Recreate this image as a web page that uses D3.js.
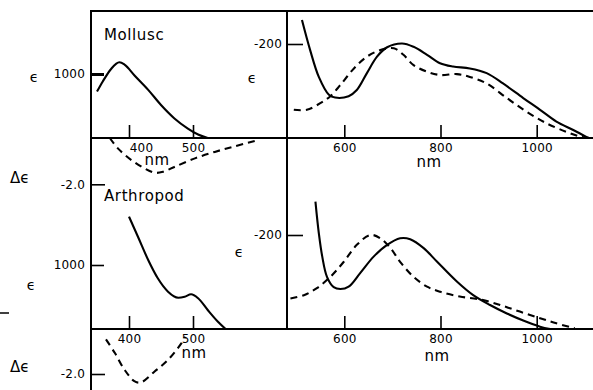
<!DOCTYPE html>
<html>
<head>
<meta charset="utf-8">
<script src="https://cdn.jsdelivr.net/npm/d3@7/dist/d3.min.js"></script>
<style>
  html, body { margin: 0; padding: 0; background: #fff; }
  svg { display: block; }
  text { font-family: "DejaVu Sans", "Liberation Sans", sans-serif; fill: #000; }
</style>
</head>
<body>
<svg id="chart" width="593" height="390"></svg>
<script>
// ---------------- data ----------------
// Mollusc: visible absorption (epsilon) and CD (delta epsilon)
const mollAbsNm   = [350, 359, 372, 385, 393, 409, 430, 450, 471, 492, 508, 523];
const mollAbsEps  = [725, 883, 1079, 1183, 1147, 973, 752, 516, 306, 148, 54, 0];
const mollCdNm    = [370, 383, 404, 424, 440, 453, 471, 503, 534, 565, 600];
const mollCdDeps  = [0, -0.46, -0.96, -1.31, -1.50, -1.46, -1.25, -0.88, -0.60, -0.36, -0.10];
// Mollusc: near-IR band, solid and dashed
const mollNirSolidNm = [512, 529, 547, 568, 581, 609, 626, 647, 668, 689, 720, 744, 772, 799, 826, 861, 896, 930, 972, 1007, 1041, 1076, 1107];
const mollNirSolid   = [251, 187, 130, 92, 86, 89, 102, 138, 173, 193, 201, 194, 177, 159, 152, 148, 138, 116, 85, 60, 35, 17, 0];
const mollNirDashNm  = [495, 522, 550, 571, 592, 620, 647, 675, 703, 723, 744, 772, 800, 834, 861, 896, 938, 979, 1021, 1062, 1090, 1111];
const mollNirDash    = [60, 60, 74, 89, 113, 148, 173, 187, 191, 177, 155, 141, 134, 136, 130, 116, 85, 56, 31, 13, 3, 0];

// Arthropod
const arthAbsNm   = [400, 414, 430, 445, 461, 477, 487, 497, 508, 523, 539, 551];
const arthAbsEps  = [1755, 1442, 1078, 792, 583, 489, 505, 542, 480, 297, 114, 0];
const arthCdNm    = [364, 378, 393, 409, 419, 440, 461, 482, 488];
const arthCdDeps  = [-0.46, -1.07, -1.81, -2.33, -2.37, -1.89, -1.37, -0.63, -0.34];
const arthNirSolidNm = [540, 547, 554, 564, 578, 592, 609, 633, 661, 689, 716, 737, 765, 793, 834, 868, 903, 938, 972, 1007, 1028];
const arthNirSolid   = [271, 204, 155, 111, 89, 85, 90, 119, 154, 179, 193, 191, 172, 143, 101, 72, 51, 33, 18, 5, 0];
const arthNirDashNm  = [488, 516, 543, 571, 599, 626, 654, 675, 696, 716, 744, 772, 800, 840, 882, 924, 965, 1007, 1041, 1079];
const arthNirDash    = [65, 72, 87, 111, 143, 179, 200, 193, 172, 143, 111, 90, 79, 69, 63, 51, 37, 23, 12, 1.5];

// tick values / labels
const visTicks = [400, 500];
const nirTicks = [600, 800, 1000];
const epsTick = [1000];
const depsTick = [-2.0];
const depsTickLabel = ["-2.0"];
const nirYTick = [200];
const nirYTickLabel = ["-200"];
const panelNames = ["Mollusc", "Arthropod"];

// ---------------- drawing ----------------
const svg = d3.select("#chart");
const W = 593;

const xVis = d3.scaleLinear().domain([400, 500]).range([129, 193]);
const xNir = d3.scaleLinear().domain([600, 1000]).range([344.3, 536.7]);

const rows = [
  { base: 138, epsTop: 74, depsBot: 184.3, nirTop: 44,
    abs: [mollAbsNm, mollAbsEps], cd: [mollCdNm, mollCdDeps],
    s: [mollNirSolidNm, mollNirSolid], d: [mollNirDashNm, mollNirDash], name: panelNames[0], nameY: 40 },
  { base: 329, epsTop: 265, depsBot: 374, nirTop: 235,
    abs: [arthAbsNm, arthAbsEps], cd: [arthCdNm, arthCdDeps],
    s: [arthNirSolidNm, arthNirSolid], d: [arthNirDashNm, arthNirDash], name: panelNames[1], nameY: 201 }
];

const zip = (a, b) => a.map((v, i) => [v, b[i]]);

// frame lines
const frame = svg.append("g").attr("stroke", "#000").attr("fill", "none");
frame.append("line").attr("x1", 91).attr("x2", W).attr("y1", 11).attr("y2", 11).attr("stroke-width", 2);
frame.append("line").attr("x1", 91).attr("x2", 91).attr("y1", 10).attr("y2", 390).attr("stroke-width", 2);
frame.append("line").attr("x1", 287).attr("x2", 287).attr("y1", 10).attr("y2", 330).attr("stroke-width", 2);
rows.forEach(r => {
  frame.append("line").attr("x1", 91).attr("x2", W).attr("y1", r.base).attr("y2", r.base).attr("stroke-width", 2);
});
// stray mark at far left
frame.append("line").attr("x1", 0).attr("x2", 9).attr("y1", 313).attr("y2", 313).attr("stroke-width", 1.5);

rows.forEach((r, i) => {
  const yEps = d3.scaleLinear().domain([0, 1000]).range([r.base, r.epsTop]);
  const yDeps = d3.scaleLinear().domain([0, -2]).range([r.base, r.depsBot]);
  const yNir = d3.scaleLinear().domain([0, 200]).range([r.base, r.nirTop]);

  // x axes (ticks pointing up, labels below)
  const gxv = svg.append("g").attr("transform", `translate(0,${r.base})`)
    .call(d3.axisBottom(xVis).tickValues(visTicks).tickSize(-13).tickPadding(5).tickFormat(d3.format("d")));
  const gxn = svg.append("g").attr("transform", `translate(0,${r.base})`)
    .call(d3.axisBottom(xNir).tickValues(nirTicks).tickSize(-13).tickPadding(5).tickFormat(d3.format("d")));
  if (i === 0) gxv.selectAll(".tick text").filter(d => d === 400).attr("dx", 12);

  // y axes
  const gye = svg.append("g").attr("transform", "translate(91,0)")
    .call(d3.axisLeft(yEps).tickValues(epsTick).tickSize(-13).tickPadding(6).tickFormat(d3.format("d")));
  if (i === 0) gye.selectAll(".tick line").attr("stroke-width", 3);
  const gyd = svg.append("g").attr("transform", "translate(91,0)")
    .call(d3.axisLeft(yDeps).tickValues(depsTick).tickSize(-14).tickPadding(6).tickFormat((d, k) => depsTickLabel[k]));
  const gyn = svg.append("g").attr("transform", "translate(287,0)")
    .call(d3.axisLeft(yNir).tickValues(nirYTick).tickSize(-16).tickPadding(5).tickFormat((d, k) => nirYTickLabel[k]));

  [gxv, gxn, gye, gyd, gyn].forEach(g => {
    g.select(".domain").remove();
    g.selectAll(".tick line").attr("stroke", "#000").filter(function(){ return !this.getAttribute("stroke-width"); }).attr("stroke-width", 1.6);
    g.selectAll(".tick text").attr("font-size", 12).attr("fill", "#000")
      .attr("font-family", "DejaVu Sans, sans-serif").attr("letter-spacing", 0.2);
  });

  // curves
  const lineVis = d3.line().x(d => xVis(d[0])).y(d => yEps(d[1])).curve(d3.curveMonotoneX);
  const lineCd = d3.line().x(d => xVis(d[0])).y(d => yDeps(d[1])).curve(d3.curveCatmullRom.alpha(0.5));
  const lineNir = d3.line().x(d => xNir(d[0])).y(d => yNir(d[1])).curve(d3.curveCatmullRom.alpha(0.5));

  const cg = svg.append("g").attr("fill", "none").attr("stroke", "#000").attr("stroke-width", 2.1)
    .attr("stroke-linejoin", "round");
  cg.append("path").attr("d", lineVis(zip(r.abs[0], r.abs[1])));
  cg.append("path").attr("d", lineCd(zip(r.cd[0], r.cd[1]))).attr("stroke-dasharray", "7,5");
  cg.append("path").attr("d", lineNir(zip(r.s[0], r.s[1])));
  cg.append("path").attr("d", lineNir(zip(r.d[0], r.d[1]))).attr("stroke-dasharray", "7,5");

  // labels
  svg.append("text").attr("x", 104).attr("y", r.nameY).attr("font-size", 15).attr("letter-spacing", 0.6).text(r.name);
  svg.append("text").attr("x", i === 0 ? 34 : 31).attr("y", yEps(1000) + (i === 0 ? 8 : 25)).attr("font-size", 14).attr("text-anchor", "middle").text("ϵ");
  svg.append("text").attr("x", 10).attr("y", yDeps(-2) + (i === 0 ? -1 : -2)).attr("font-size", 15).text("Δϵ");
  svg.append("text").attr("x", i === 0 ? 252 : 239).attr("y", yNir(200) + (i === 0 ? 39 : 22)).attr("font-size", 14).attr("text-anchor", "middle").text("ϵ");
  // nm labels
  svg.append("text").attr("x", i === 0 ? 157 : 194).attr("y", r.base + (i === 0 ? 27 : 29)).attr("font-size", 15).attr("letter-spacing", 0.5).attr("text-anchor", "middle").text("nm");
  svg.append("text").attr("x", i === 0 ? 429 : 437).attr("y", r.base + (i === 0 ? 29 : 32)).attr("font-size", 15).attr("letter-spacing", 0.5).attr("text-anchor", "middle").text("nm");
});
</script>
</body>
</html>
